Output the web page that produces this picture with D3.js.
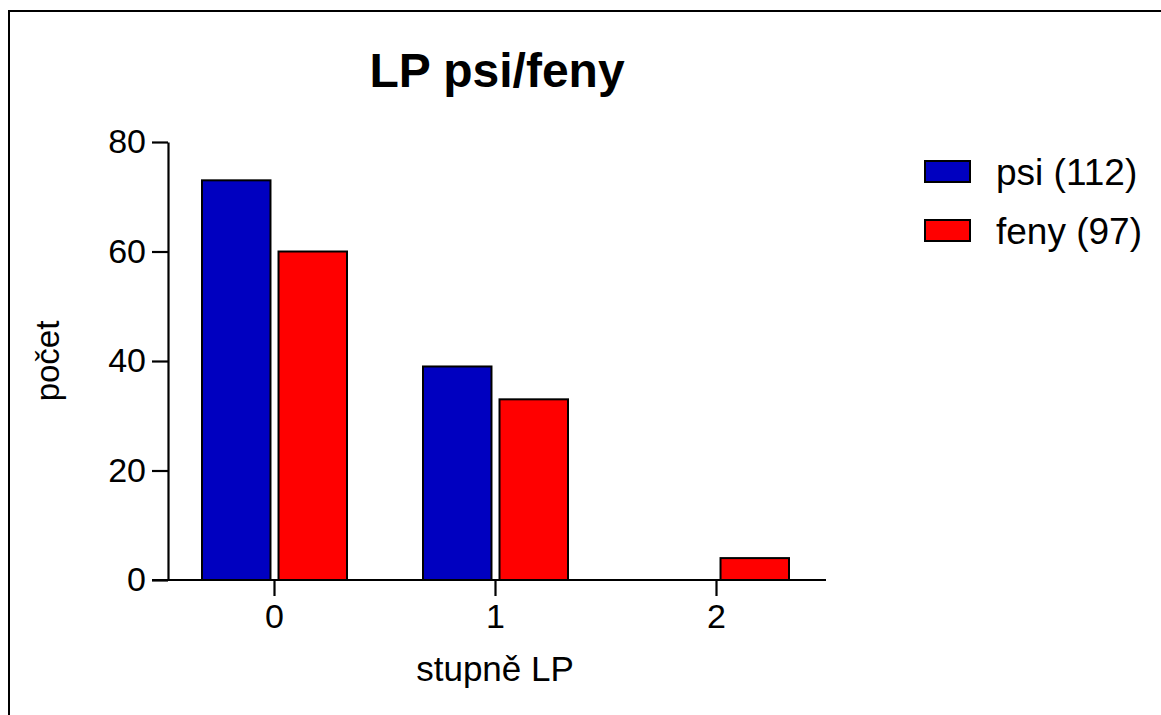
<!DOCTYPE html>
<html>
<head>
<meta charset="utf-8">
<script src="https://cdn.jsdelivr.net/npm/d3@7"></script>
<style>
  html, body { margin: 0; padding: 0; background: #fff; }
  svg { display: block; font-family: "Liberation Sans", Arial, sans-serif; }
</style>
</head>
<body>
<svg id="chart" width="1161" height="715"></svg>
<script>
const categories = ["0", "1", "2"];
const seriesNames = ["psi (112)", "feny (97)"];
const psiValues = [73, 39, 0];
const fenyValues = [60, 33, 4];
const yTicks = [0, 20, 40, 60, 80];
const colors = ["#0000C0", "#FF0000"];

const svg = d3.select("#chart");

// outer frame
svg.append("rect")
  .attr("x", 9).attr("y", 11)
  .attr("width", 1200).attr("height", 800)
  .attr("fill", "none").attr("stroke", "#000").attr("stroke-width", 2);

const x = d3.scaleBand().domain(categories).range([164, 827]).padding(0);
const x1 = d3.scaleBand().domain([0, 1]).range([38, 183]).paddingInner(0.105).paddingOuter(0);
const y = d3.scaleLinear().domain([0, 80]).range([580, 142]);

// bars
const series = [psiValues, fenyValues];
series.forEach((vals, si) => {
  svg.append("g").selectAll("rect")
    .data(categories.map((c, i) => ({ c, v: vals[i] })).filter(d => d.v > 0))
    .join("rect")
    .attr("x", d => x(d.c) + x1(si))
    .attr("width", x1.bandwidth())
    .attr("y", d => y(d.v))
    .attr("height", d => y(0) - y(d.v))
    .attr("fill", colors[si])
    .attr("stroke", "#000")
    .attr("stroke-width", 2);
});

// y axis
const yAxis = svg.append("g")
  .attr("transform", "translate(168,0)")
  .call(d3.axisLeft(y).tickValues(yTicks).tickSize(16).tickPadding(6).tickSizeOuter(0));
yAxis.select(".domain").attr("stroke-width", 2.2);
yAxis.selectAll(".tick line").attr("stroke-width", 2.2);
yAxis.selectAll("text").attr("font-size", 34).attr("fill", "#000")
  .attr("font-family", "Liberation Sans, Arial, sans-serif");

// x axis
const xAxis = svg.append("g")
  .attr("transform", "translate(0,580)")
  .call(d3.axisBottom(x).tickSize(16).tickPadding(8).tickSizeOuter(0));
xAxis.select(".domain").remove();
xAxis.append("line").attr("x1", 152).attr("x2", 826).attr("y1", 0).attr("y2", 0)
  .attr("stroke", "#000").attr("stroke-width", 2.2);
xAxis.selectAll(".tick line").attr("stroke-width", 2.2);
xAxis.selectAll("text").attr("font-size", 34).attr("fill", "#000")
  .attr("font-family", "Liberation Sans, Arial, sans-serif");

// title
svg.append("text")
  .attr("x", 497).attr("y", 87)
  .attr("text-anchor", "middle")
  .attr("font-size", 48).attr("font-weight", "bold")
  .text("LP psi/feny");

// axis titles
svg.append("text")
  .attr("x", 495).attr("y", 681)
  .attr("text-anchor", "middle")
  .attr("font-size", 35)
  .text("stupně LP");

svg.append("text")
  .attr("transform", "translate(59,361) rotate(-90)")
  .attr("text-anchor", "middle")
  .attr("font-size", 33)
  .text("počet");

// legend
const legend = svg.append("g");
seriesNames.forEach((name, i) => {
  const ly = 161 + i * 59;
  legend.append("rect")
    .attr("x", 925).attr("y", ly).attr("width", 45).attr("height", 21)
    .attr("fill", colors[i]).attr("stroke", "#000").attr("stroke-width", 2);
  legend.append("text")
    .attr("x", 996).attr("y", ly + 24)
    .attr("font-size", 37)
    .text(name);
});
</script>
</body>
</html>
